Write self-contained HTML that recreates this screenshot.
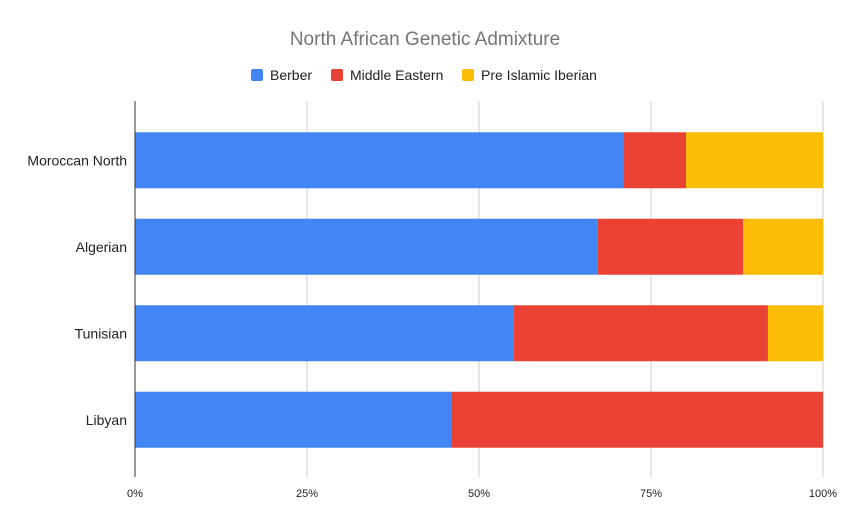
<!DOCTYPE html>
<html><head><meta charset="utf-8"><style>
body{margin:0;background:#fff;font-family:"Liberation Sans",Arial,sans-serif;}
</style></head><body>
<svg width="850" height="525" xmlns="http://www.w3.org/2000/svg" id="chart">
<text x="425" y="45" text-anchor="middle" font-size="19" fill="#757575">North African Genetic Admixture</text>
<g id="legend"></g>
<g id="grid"></g>
<g id="bars"></g>
<g id="axes"></g>
</svg>
<script>
const categories=["Moroccan North","Algerian","Tunisian","Libyan"];
const seriesNames=["Berber","Middle Eastern","Pre Islamic Iberian"];
const berber=[71,67.2,55,46];
const middleEastern=[9.1,21.2,37,54];
const iberian=[19.9,11.6,8,0];
const tickValues=[0,25,50,75,100];
const tickLabels=["0%","25%","50%","75%","100%"];
const colors=["#4285f4","#ea4335","#fbbc04"];
const NS="http://www.w3.org/2000/svg";
const x0=135,x1=823,yTop=101,yBot=477;
const bandTop=117,bandBot=463;
const xs=v=>x0+(x1-x0)*v/100;
const band=(bandBot-bandTop)/categories.length;
const barH=56;
function mk(tag,attrs,parent){const e=document.createElementNS(NS,tag);for(const k in attrs)e.setAttribute(k,attrs[k]);parent.appendChild(e);return e;}
const grid=document.getElementById('grid'),bars=document.getElementById('bars'),axes=document.getElementById('axes'),legend=document.getElementById('legend');
tickValues.forEach((v,i)=>{
 const l=mk('line',{x1:xs(v),x2:xs(v),y1:yTop,y2:yBot,stroke:'#cccccc','stroke-width':1},grid);
 
 
 const t=mk('text',{x:xs(v),y:497,'text-anchor':'middle','font-size':11,fill:'#222'},axes);
 t.textContent=tickLabels[i];
 
 
});
const series=[berber,middleEastern,iberian];
categories.forEach((c,i)=>{
 const cy=bandTop+band*(i+0.5);
 let acc=0;
 series.forEach((s,j)=>{
  const v=s[i];
  if(v>0){
   const r=mk('rect',{x:xs(acc),y:cy-barH/2,width:xs(acc+v)-xs(acc),height:barH,fill:colors[j]},bars);
   
   
  }
  acc+=v;
 });
 const t=mk('text',{x:127,y:cy+5,'text-anchor':'end','font-size':14,fill:'#222'},axes);
 t.textContent=c;
 
 
});
const ax=mk('line',{x1:x0,x2:x0,y1:yTop,y2:yBot,stroke:'#333','stroke-width':1},axes);


const lx=[251,331,462];
seriesNames.forEach((n,j)=>{
 const g=mk('g',{},legend);
 
 
 mk('rect',{x:lx[j],y:69,width:12,height:12,rx:2,fill:colors[j]},g);
 const t=mk('text',{x:lx[j]+19,y:80,'font-size':14,fill:'#222'},g);
 t.textContent=n;
});
</script>
</body></html>
